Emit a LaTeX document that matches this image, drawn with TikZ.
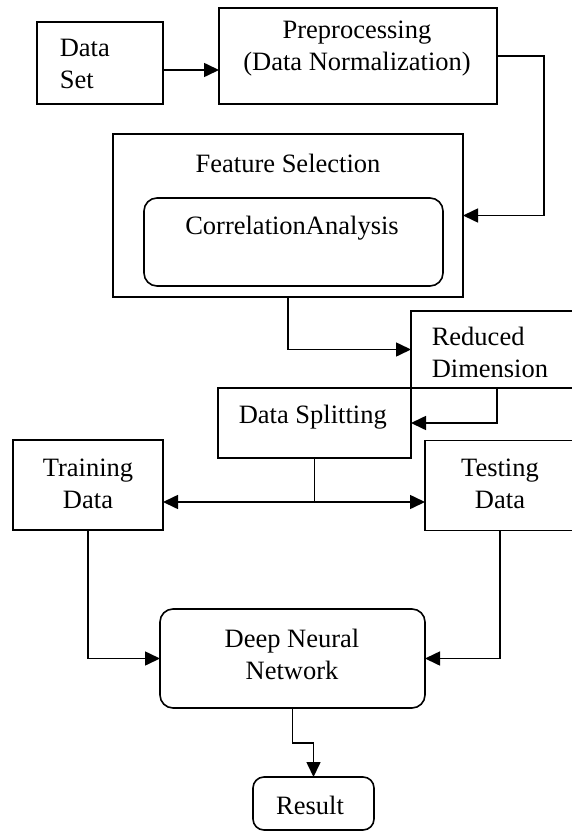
\documentclass[tikz,border=0pt]{standalone}
\usepackage{fontspec}
\setmainfont{Liberation Serif}
\usetikzlibrary{arrows.meta,calc}
\begin{document}
\begin{tikzpicture}[x=1pt,y=-1pt,
  line width=1.6pt,
  box/.style={draw,rectangle,inner sep=0pt,outer sep=0pt},
  rbox/.style={box,rounded corners=13pt},
  txt/.style={inner sep=0pt,font=\fontsize{26.5}{32}\selectfont},
  arr/.style={-{Triangle[length=15pt,width=14pt]}}]
\useasboundingbox[fill=white] (0,0) rectangle (572,832);
\clip (0,0) rectangle (572,832);
% boxes
\node[box,minimum width=126pt,minimum height=82pt] (dataset) at (100,63) {};
\node[box,minimum width=278pt,minimum height=96pt] (prep) at (358,56) {};
\node[box,minimum width=350pt,minimum height=163pt] (feat) at (288,215.5) {};
\node[rbox,minimum width=299pt,minimum height=88pt] (corr) at (293.5,242) {};
\node[box,minimum width=172pt,minimum height=77pt] (red) at (497,349.5) {};
\node[box,minimum width=193pt,minimum height=70pt] (split) at (314.5,423) {};
\node[box,minimum width=150pt,minimum height=90pt] (train) at (88,485) {};
\node[box,minimum width=150pt,minimum height=90pt] (test) at (500,485.5) {};
\node[rbox,minimum width=265pt,minimum height=99pt] (dnn) at (292.5,658.5) {};
\node[rbox,rounded corners=11pt,minimum width=121pt,minimum height=53pt] (result) at (313.5,803.5) {};
% texts
\node[txt,align=left,anchor=west] (tdataset) at (59,64) {Data\\Set};
\node[txt,align=center] (tprep) at (357,49) {Preprocessing\\(Data Normalization)};
\node[txt] (tfeat) at (288,163) {Feature Selection};
\node[txt] (tcorr) at (292,228) {CorrelationAnalysis};
\node[txt,align=left,anchor=west] (tred) at (431,352.5) {Reduced\\Dimension};
\node[txt,anchor=west] (tsplit) at (238,417) {Data Splitting};
\node[txt,align=center] (ttrain) at (88,483.5) {Training\\Data};
\node[txt,align=center] (ttest) at (500,483.5) {Testing\\Data};
\node[txt,align=center] (tdnn) at (292,654.5) {Deep Neural\\Network};
\node[txt] (tresult) at (310,805) {Result};
% connectors
\draw[arr] ([yshift=-7pt]dataset.east) -- ([yshift=-7pt]dataset.east -| prep.west);
\draw[arr] (prep.east) -- ++(47,0) |- (feat.east);
\draw[arr] (feat.south) |- (red.west);
\draw[arr] (red.south) |- (split.east);
\coordinate (j) at ([yshift=-44pt]split.south);
\draw (split.south) -- (j);
\draw[arr] (j) -- (j -| train.east);
\draw[arr] (j) -- (j -| test.west);
\draw[arr] (train.south) |- (dnn.west);
\draw[arr] (test.south) |- (dnn.east);
\draw[arr] (dnn.south) -- ++(0,35) -| (result.north);
\end{tikzpicture}
\end{document}
